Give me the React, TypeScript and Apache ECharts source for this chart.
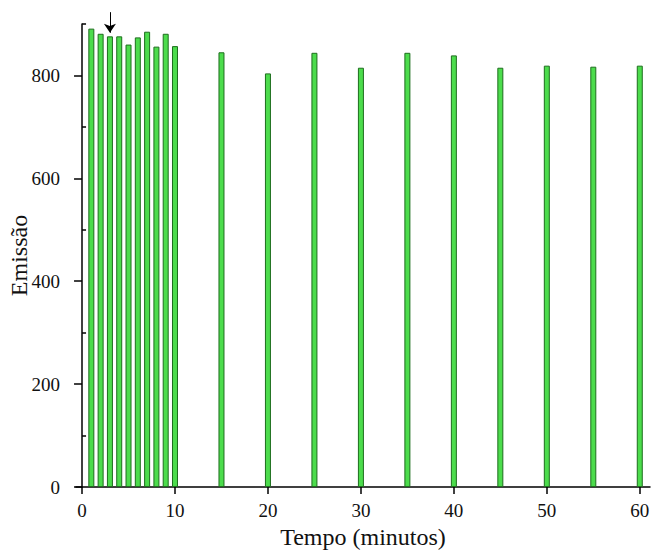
import React, { useEffect, useRef } from "react";
import * as echarts from "echarts";

const times = [1, 2, 3, 4, 5, 6, 7, 8, 9, 10, 15, 20, 25, 30, 35, 40, 45, 50, 55, 60];
const emission = [891, 881, 876, 876, 860, 874, 885, 856, 881, 857, 845, 804, 844, 815, 844, 839, 815, 819, 817, 819];
const xMajorTicks = [0, 10, 20, 30, 40, 50, 60];
const xMinorTicks = [5, 15, 25, 35, 45, 55];
const yMajorTicks = [0, 200, 400, 600, 800];
const yMinorTicks = [100, 300, 500, 700, 900];
const arrowFrom = [3, 923];
const arrowTo = [3, 883];

const FONT = "'Times New Roman', 'Liberation Serif', serif";

export default function App() {
  const ref = useRef<HTMLDivElement>(null);
  useEffect(() => {
    if (!ref.current) return;
    document.body.style.margin = "0";
    const chart = echarts.init(ref.current, null, { renderer: "svg" });
    const xBase = { type: "value", min: -0.65, max: 61.1, splitLine: { show: false } };
    const yBase = { type: "value", min: 0, max: 900, splitLine: { show: false } };
    chart.setOption({
      animation: false,
      backgroundColor: "#ffffff",
      textStyle: { fontFamily: FONT },
      grid: { left: 76, right: 2, top: 24, bottom: 65, outerBoundsMode: "none", containLabel: false },
      xAxis: [
        {
          ...xBase,
          name: "Tempo (minutos)",
          nameLocation: "middle",
          nameGap: 38,
          nameMoveOverlap: false,
          nameTextStyle: { fontFamily: FONT, fontSize: 24, color: "#111" },
          axisLine: { show: true, lineStyle: { color: "#000", width: 1.5 } },
          axisTick: { show: true, length: 7, customValues: xMajorTicks, lineStyle: { color: "#000", width: 1.5 } },
          axisLabel: { show: true, customValues: xMajorTicks, margin: 14, fontFamily: FONT, fontSize: 19, color: "#111" },
        },
        {
          ...xBase,
          axisLine: { show: false },
          axisTick: { show: true, length: 4, customValues: xMinorTicks, lineStyle: { color: "#000", width: 1.5 } },
          axisLabel: { show: false },
        },
      ],
      yAxis: [
        {
          ...yBase,
          name: "Emissão",
          nameLocation: "middle",
          nameGap: 45,
          nameMoveOverlap: false,
          nameTextStyle: { fontFamily: FONT, fontSize: 24, color: "#111" },
          axisLine: { show: true, lineStyle: { color: "#000", width: 1.5 } },
          axisTick: { show: true, length: 8, customValues: yMajorTicks, lineStyle: { color: "#000", width: 1.5 } },
          axisLabel: { show: true, customValues: yMajorTicks, margin: 16, fontFamily: FONT, fontSize: 19, color: "#111" },
        },
        {
          ...yBase,
          axisLine: { show: false },
          axisTick: { show: true, length: 4, customValues: yMinorTicks, lineStyle: { color: "#000", width: 1.5 } },
          axisLabel: { show: false },
        },
      ],
      series: [
        {
          type: "bar",
          xAxisIndex: 0,
          yAxisIndex: 0,
          barWidth: 6,
          clip: false,
          data: times.map((t, i) => [t, emission[i]]),
          itemStyle: { color: "#4cdc4c", borderColor: "#1d6e1d", borderWidth: 1 },
        },
        {
          type: "lines",
          coordinateSystem: "cartesian2d",
          xAxisIndex: 0,
          yAxisIndex: 0,
          clip: false,
          symbol: ["none", "arrow"],
          symbolSize: [6, 9],
          lineStyle: { color: "#000", width: 1, opacity: 1 },
          data: [{ coords: [arrowFrom, arrowTo] }],
        },
      ],
    });
    return () => chart.dispose();
  }, []);
  return <div ref={ref} style={{ width: 652, height: 552 }} />;
}
